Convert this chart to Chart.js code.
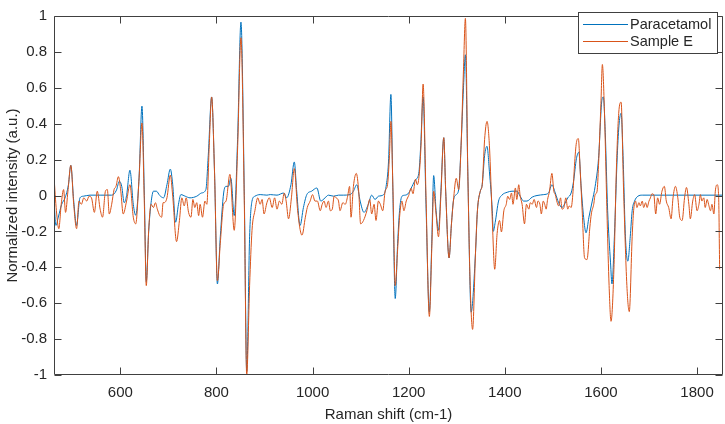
<!DOCTYPE html>
<html>
<head>
<meta charset="utf-8">
<script src="https://cdn.jsdelivr.net/npm/chart.js@4.4.1/dist/chart.umd.min.js"></script>
<style>
  html, body { margin: 0; padding: 0; background: #ffffff; }
  #wrap { width: 725px; height: 424px; }
</style>
</head>
<body>
<div id="wrap"><canvas id="c" width="725" height="424"></canvas></div>
<script>
// ---- Data ----
const seriesNames = ['Paracetamol', 'Sample E'];

const paraX = [462,466,471,478,485,492,497,503,509,516,523,537,558,582,592,598,603,608,613,620,627,632,639,645,650,654,659,664,669,675,682,
690,697,704,709,715,721,726,735,745,759,769,778,783,790,796,802,808,815,820,825,830,837,844,851,858,863,869,874,880,891,905,
912,926,940,946,955,962,967,974,981,988,998,1009,1017,1026,1033,1044,1054,1064,1078,1085,1092,1099,1107,1116,1123,1130,1137,1148,
1153,1158,1163,1167,1172,1177,1181,1186,1193,1200,1207,1214,1221,1225,1230,1236,1243,1248,1252,1257,1262,1267,1273,1277,1284,1289,1293,1299,1304,1309,1314,1318,1323,1330,1339,1343,1349,1353,1358,1363,1368,1374,1376,1380,
1387,1394,1405,1415,1425,1432,1439,1446,1457,1467,1481,1491,1498,1505,1512,1519,1524,1531,1538,1543,1549,1554,1559,1564,1569,1575,1582,1588,1595,1602,1605,
1609,1614,1620,1623,1628,1634,1638,1642,1646,1651,1656,1661,1665,1670,1677,1686,1703,1854];

const paraY = [-0.03,-0.167,-0.12,-0.049,-0.013,0.06,0.168,-0.03,-0.167,-0.013,-0.004,0.002,0.002,0.002,0.03,0.08,0.05,-0.04,0.0,0.141,-0.05,-0.11,0.1,0.498,0.0,-0.48,-0.2,-0.04,0.024,0.024,0.0,
-0.013,0.06,0.147,0.06,-0.149,-0.049,0.005,-0.004,-0.013,-0.004,0.014,0.033,0.223,0.549,0.13,-0.493,-0.23,0.014,0.051,0.051,0.096,-0.112,0.313,0.966,0.0,-0.98,-0.23,-0.031,-0.004,0.005,0.002,
0.005,0.002,0.014,-0.013,0.06,0.187,0.024,-0.167,-0.067,0.005,0.024,0.042,-0.031,-0.013,0.002,-0.004,0.002,0.002,0.005,0.024,0.06,-0.031,-0.094,-0.049,0.002,-0.022,-0.004,0.005,
0.051,0.187,0.563,0.042,-0.574,-0.266,-0.085,-0.004,0.002,0.014,0.051,0.087,0.123,0.277,0.55,-0.049,-0.65,-0.266,0.111,-0.085,-0.194,0.024,0.322,0.024,-0.348,-0.158,-0.031,0.005,0.033,0.277,0.6,0.784,0.132,-0.65,-0.321,-0.085,0.024,0.06,0.223,0.274,0.132,-0.085,-0.2,-0.15,
-0.031,0.002,0.018,0.024,0.024,-0.004,-0.031,-0.031,-0.009,0.0,0.005,0.014,0.06,0.014,-0.04,-0.067,-0.049,-0.013,0.014,0.078,0.205,0.241,0.042,-0.121,-0.208,-0.121,-0.031,0.051,0.205,0.531,0.549,
0.35,-0.085,-0.375,-0.493,-0.23,0.223,0.404,0.458,0.223,-0.23,-0.366,-0.23,-0.085,-0.031,-0.004,0.002,0.002,0.002];

const sampleX = [462,467,472,477,482,486,491,497,503,509,514,519,524,530,535,540,546,552,558,563,569,573,577,582,587,591,596,601,606,613,620,627,632,639,645,650,654,659,664,669,673,677,682,686,689,
691,697,704,709,717,723,728,733,737,742,747,751,755,759,763,766,771,776,780,785,790,796,802,808,815,820,828,837,844,851,858,863,869,874,880,886,891,895,899,905,910,916,
921,926,931,936,941,945,950,956,962,969,978,985,989,995,1000,1005,1010,1016,1020,1024,1028,1033,1037,1041,1045,1049,1054,1057,1063,1068,1073,1077,1080,1085,1091,1096,1100,1106,1113,1119,1123,1128,1132,1137,1141,1146,
1151,1156,1160,1163,1167,1172,1177,1181,1186,1190,1195,1200,1205,1209,1214,1218,1222,1226,1230,1236,1243,1248,1252,1257,1262,1267,1273,1277,1284,1289,1293,1299,1304,1309,1314,1318,1323,1328,1333,1339,1343,1349,1353,1358,1363,1368,1374,1379,
1384,1389,1393,1398,1403,1406,1410,1414,1417,1422,1425,1429,1432,1436,1441,1445,1450,1453,1457,1461,1466,1469,1473,1476,1480,1483,1486,1489,1493,1498,1502,1505,1509,1512,1516,1519,1523,1527,1531,1534,1538,1542,1545,1549,1553,1557,1561,1566,1571,1577,1580,1585,1588,1592,1595,1600,1603,
1607,1613,1617,1621,1627,1632,1637,1642,1647,1654,1659,1665,1668,1672,1675,1679,1682,1686,1689,1693,1696,1700,1703,1706,1710,1714,1718,1722,1727,1732,1736,1741,1746,1750,1755,1760,1764,1769,1774,1778,1783,1786,1791,1795,1800,1804,1807,1810,1814,1817,1821,1824,1828,1831,1835,1838,1842,1845,1847];

const sampleY = [0.105,-0.085,-0.185,-0.049,0.033,-0.094,0.024,0.168,-0.049,-0.185,-0.031,-0.049,-0.013,-0.031,-0.004,-0.013,-0.094,0.024,-0.076,-0.121,0.024,0.033,-0.103,-0.049,0.033,0.051,0.105,0.024,-0.103,-0.031,0.06,-0.121,-0.158,0.096,0.404,-0.049,-0.502,-0.194,-0.049,-0.067,-0.04,-0.076,-0.112,-0.121,-0.04,
-0.04,-0.013,0.114,-0.004,-0.257,-0.139,-0.013,-0.058,-0.013,-0.094,-0.121,-0.022,-0.067,-0.04,-0.112,-0.049,-0.121,-0.031,-0.049,0.277,0.549,0.132,-0.475,-0.266,-0.049,-0.031,0.118,-0.194,0.259,0.879,-0.049,-1.0,-0.502,-0.194,-0.085,-0.013,-0.049,-0.022,-0.103,-0.04,-0.013,-0.067,
-0.013,-0.076,-0.031,-0.049,0.014,-0.031,-0.13,-0.013,0.15,-0.085,-0.221,-0.121,-0.067,-0.031,0.005,-0.031,-0.031,-0.085,-0.049,-0.031,-0.067,-0.031,-0.085,-0.076,-0.004,-0.013,-0.031,-0.085,-0.04,-0.049,-0.004,0.051,-0.121,0.051,0.123,0.024,-0.158,-0.139,-0.085,-0.022,-0.103,-0.049,-0.139,-0.031,-0.049,-0.085,
0.024,0.06,0.223,0.413,0.06,-0.502,-0.3,-0.121,-0.031,-0.085,-0.03,0.0,0.04,0.01,0.09,0.06,0.12,0.3,0.621,0.0,-0.674,-0.3,0.024,-0.103,-0.23,0.0,0.322,0.024,-0.348,-0.158,-0.031,0.096,0.033,0.277,0.7,0.987,0.132,-0.5,-0.746,-0.321,-0.085,0.024,0.06,0.313,0.413,0.277,-0.139,-0.411,
-0.212,-0.139,-0.203,-0.085,-0.049,-0.004,-0.022,0.014,-0.049,0.042,-0.022,0.06,-0.004,-0.049,-0.158,-0.049,-0.076,-0.04,-0.049,-0.022,-0.067,-0.031,-0.049,-0.103,-0.031,-0.049,-0.076,-0.022,0.024,0.123,0.024,0.005,-0.04,-0.058,-0.013,-0.076,-0.067,-0.013,-0.076,-0.058,-0.067,0.024,0.168,0.295,0.317,0.132,-0.085,-0.348,-0.357,-0.176,-0.103,-0.049,0.005,0.024,0.168,0.513,0.73,
0.495,-0.139,-0.502,-0.701,-0.411,0.132,0.458,0.52,0.042,-0.502,-0.647,-0.23,-0.085,-0.031,-0.067,-0.04,-0.058,-0.031,-0.067,-0.04,-0.067,-0.031,-0.013,0.009,0.005,-0.103,-0.013,-0.049,0.024,0.051,-0.031,-0.067,-0.13,-0.013,0.051,-0.013,-0.121,-0.139,-0.013,0.045,-0.049,-0.13,-0.031,0.005,-0.085,-0.049,0.005,-0.031,-0.013,-0.067,-0.022,-0.049,-0.085,-0.049,-0.103,0.024,0.06,-0.013,-0.411];

const xTicks = [600, 800, 1000, 1200, 1400, 1600, 1800];
const yTicks = [-1, -0.8, -0.6, -0.4, -0.2, 0, 0.2, 0.4, 0.6, 0.8, 1];
const xRange = [462, 1854];
const yRange = [-1, 1];
const xTitle = 'Raman shift (cm-1)';
const yTitle = 'Normalized intensity (a.u.)';

// ---- Styling ----
const FONT = "'Liberation Sans', Arial, Helvetica, sans-serif";
const TXT = '#262626';
const AX = '#404040';
const BLUE = '#0072BD';
const ORANGE = '#D95319';

function pts(xs, ys) { return xs.map((x, i) => ({ x: x, y: ys[i] })); }

const boxPlugin = {
  id: 'matlabBox',
  afterDatasetsDraw(chart) {
    const ctx = chart.ctx;
    const a = chart.chartArea;
    const xs = chart.scales.x, ys = chart.scales.y;
    const L = Math.round(a.left) + 0.5, R = Math.round(a.right) - 0.5;
    const T = Math.round(a.top) + 0.5, B = Math.round(a.bottom) - 0.5;
    const tl = 7;
    ctx.save();
    ctx.strokeStyle = AX;
    ctx.lineWidth = 1;
    ctx.beginPath();
    ctx.rect(L, T, R - L, B - T);
    xTicks.forEach(v => {
      const px = Math.round(xs.getPixelForValue(v)) + 0.5;
      ctx.moveTo(px, B); ctx.lineTo(px, B - tl);
      ctx.moveTo(px, T); ctx.lineTo(px, T + tl);
    });
    yTicks.forEach(v => {
      const py = Math.round(ys.getPixelForValue(v)) + 0.5;
      ctx.moveTo(L, py); ctx.lineTo(L + tl, py);
      ctx.moveTo(R, py); ctx.lineTo(R - tl, py);
    });
    ctx.stroke();
    ctx.restore();
  },
  afterDraw(chart) {
    // legend box (top right, inside axes)
    const ctx = chart.ctx;
    const bx = 578.5, by = 12.5, bw = 139, bh = 41;
    ctx.save();
    ctx.fillStyle = '#ffffff';
    ctx.fillRect(bx, by, bw, bh);
    ctx.strokeStyle = AX;
    ctx.lineWidth = 1;
    ctx.strokeRect(bx, by, bw, bh);
    ctx.font = '14.5px ' + FONT;
    ctx.textBaseline = 'middle';
    ctx.fillStyle = TXT;
    chart.data.datasets.forEach((ds, i) => {
      const yy = 24 + i * 17;
      ctx.strokeStyle = ds.borderColor;
      ctx.lineWidth = 1;
      ctx.beginPath();
      ctx.moveTo(583, yy + 0.5); ctx.lineTo(628, yy + 0.5);
      ctx.stroke();
      ctx.fillText(ds.label, 630, yy + 1);
    });
    ctx.restore();
  }
};

new Chart(document.getElementById('c'), {
  type: 'line',
  data: {
    datasets: [
      { label: seriesNames[0], data: pts(paraX, paraY), borderColor: BLUE, backgroundColor: BLUE,
        borderWidth: 1, pointRadius: 0, cubicInterpolationMode: 'monotone', order: 1 },
      { label: seriesNames[1], data: pts(sampleX, sampleY), borderColor: ORANGE, backgroundColor: ORANGE,
        borderWidth: 1, pointRadius: 0, cubicInterpolationMode: 'monotone', order: 0 }
    ]
  },
  options: {
    responsive: false,
    animation: false,
    events: [],
    layout: { padding: { top: 7, right: 2, left: 0, bottom: 0 } },
    plugins: { legend: { display: false }, tooltip: { enabled: false } },
    scales: {
      x: {
        type: 'linear',
        min: xRange[0], max: xRange[1],
        afterBuildTicks: s => { s.ticks = xTicks.map(v => ({ value: v })); },
        afterFit: s => { s.height = 49; },
        grid: { display: false, drawTicks: false },
        border: { display: false },
        ticks: { color: TXT, font: { family: FONT, size: 15 }, padding: 9, maxRotation: 0,
                 callback: v => String(v) },
        title: { display: true, text: xTitle, color: TXT, font: { family: FONT, size: 15 },
                 padding: { top: 0, bottom: 0 } }
      },
      y: {
        type: 'linear',
        min: yRange[0], max: yRange[1],
        afterBuildTicks: s => { s.ticks = yTicks.map(v => ({ value: v })); },
        afterFit: s => { s.width = 54; },
        grid: { display: false, drawTicks: false },
        border: { display: false },
        ticks: { color: TXT, font: { family: FONT, size: 15 }, padding: 7,
                 callback: v => String(Number(v.toFixed(1))) },
        title: { display: true, text: yTitle, color: TXT, font: { family: FONT, size: 15 },
                 padding: { top: 4, bottom: 0 } }
      }
    }
  },
  plugins: [boxPlugin]
});
</script>
</body>
</html>
